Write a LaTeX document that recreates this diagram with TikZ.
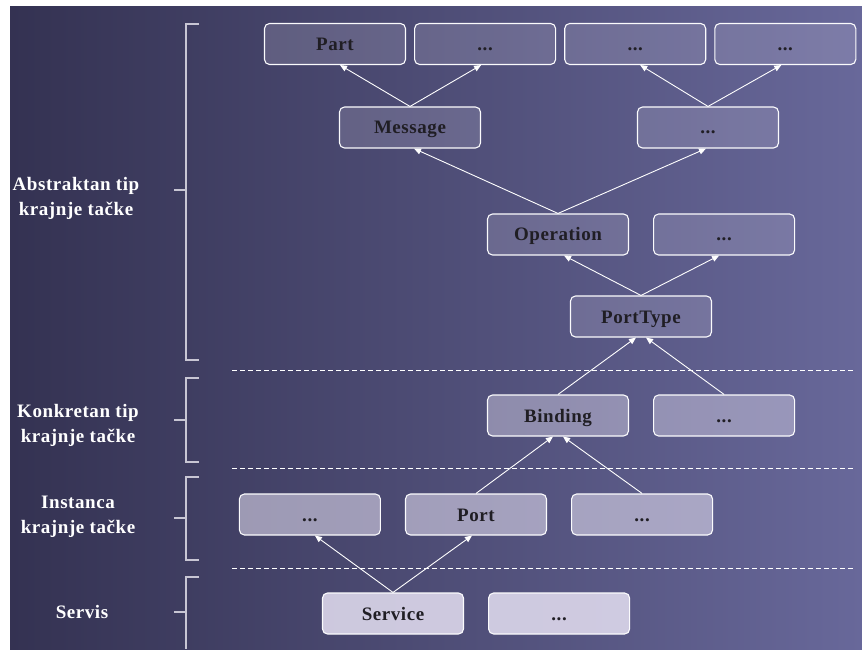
\documentclass[tikz,border=0pt]{standalone}
\usepackage{fontspec}
\setmainfont{Liberation Serif}
\newfontfamily\lbl{Liberation Serif}[LetterSpace=3]
\usetikzlibrary{positioning,arrows.meta}
\definecolor{BgL}{RGB}{52,50,82}
\definecolor{BgR}{RGB}{104,104,154}
\definecolor{Lav}{RGB}{224,219,238}
\definecolor{Ink}{RGB}{32,30,36}
\definecolor{Brk}{RGB}{200,198,212}

\begin{document}
\begin{tikzpicture}[x=1pt,y=1pt,node distance=24pt,
 b/.style={rounded corners=5pt,draw=white!88!Lav,line width=1.1pt,fill=Lav,minimum width=141pt,minimum height=41pt,
  text height=13pt,text depth=0pt,text=Ink,text opacity=1,font=\lbl\fontsize{19}{22}\selectfont\bfseries},
 b1/.style={b,fill opacity=.18},
 b2/.style={b,fill opacity=.43},
 b3/.style={b,fill opacity=.58},
 b4/.style={b,fill opacity=.88},
 g/.style={text=white,align=center,font=\lbl\fontsize{19}{25}\selectfont\bfseries},
 a/.style={-{Triangle[length=7pt,width=6pt]},white,line width=.9pt},
 br/.style={Brk,line width=1.2pt},
 sep/.style={white,line width=.9pt,dash pattern=on 5pt off 3pt}]
\useasboundingbox (0,0) rectangle (862,649);
\shade[left color=BgL,right color=BgR] (10,0) rectangle (862,642);

% levels on the left
\node[g] (abs) at (76,451) {Abstraktan tip\\krajnje tačke};
\node[g] (kon) at (78,224) {Konkretan tip\\krajnje tačke};
\node[g] (ins) at (78,132) {Instanca\\krajnje tačke};
\node[g] (srv) at (82,37) {Servis};
\draw[br] (199,625)--(186,625)--(186,289)--(199,289) (186,459)--(174,459);
\draw[br] (199,271)--(186,271)--(186,187)--(199,187) (186,229)--(174,229);
\draw[br] (199,172)--(186,172)--(186,89)--(199,89) (186,131)--(174,131);
\draw[br] (199,72)--(186,72)--(186,0) (186,37)--(174,37);
\draw[sep] (232,279)--(855,279) (232,181)--(855,181) (232,81)--(855,81);

% boxes
\node[b1] (part) at (335,605) {Part};
\node[b1,right=8pt of part] (p2) {...};
\node[b1,right=8pt of p2] (p3) {...};
\node[b1,right=8pt of p3] (p4) {...};
\node[b1] (msg) at (410,521.5) {Message};
\node[b1] (msg2) at (708,521.5) {...};
\node[b1] (op) at (558,414.5) {Operation};
\node[b1,right=of op] (op2) {...};
\node[b1] (pt) at (641,332.5) {PortType};
\node[b2] (bind) at (558,233.5) {Binding};
\node[b2,right=of bind] (bind2) {...};
\node[b3] (port) at (476,134.5) {Port};
\node[b3,left=of port] (port1) {...};
\node[b3,right=of port] (port2) {...};
\node[b4] (svc) at (393,35.5) {Service};
\node[b4,right=of svc] (svc2) {...};

% arrows
\draw[a] (msg.north)--([xshift=5pt]part.south);\draw[a] (msg.north)--([xshift=-4pt]p2.south);
\draw[a] (msg2.north)--([xshift=5pt]p3.south);\draw[a] (msg2.north)--([xshift=-4pt]p4.south);
\draw[a] (op.north)--([xshift=4pt]msg.south);\draw[a] (op.north)--([xshift=-2pt]msg2.south);
\draw[a] (pt.north)--([xshift=6pt]op.south);\draw[a] (pt.north)--([xshift=-5pt]op2.south);
\draw[a] (bind.north)--([xshift=-5pt]pt.south);\draw[a] (bind2.north)--([xshift=5pt]pt.south);
\draw[a] (port.north)--([xshift=-5pt]bind.south);\draw[a] (port2.north)--([xshift=5pt]bind.south);
\draw[a] (svc.north)--([xshift=5pt]port1.south);\draw[a] (svc.north)--([xshift=-4pt]port.south);
\end{tikzpicture}
\end{document}
